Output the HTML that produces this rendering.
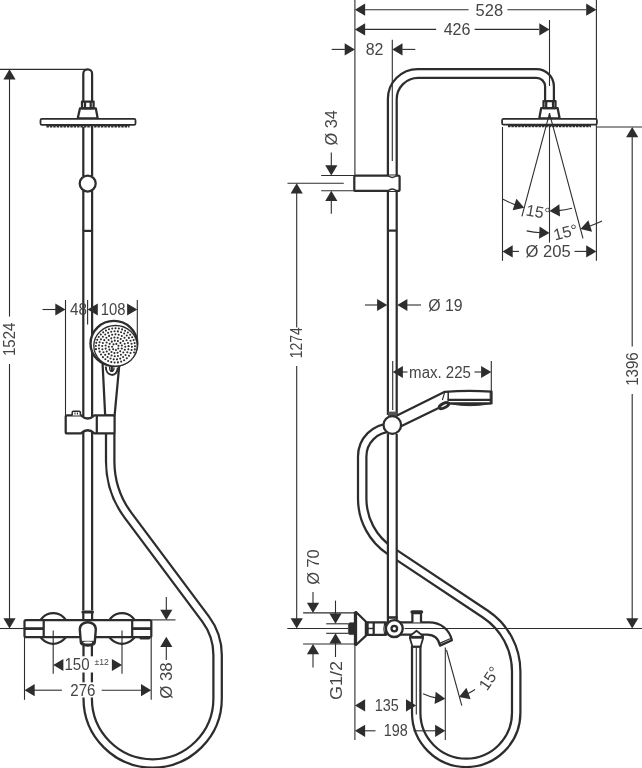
<!DOCTYPE html>
<html lang="en">
<head>
<meta charset="utf-8">
<title>Shower system dimensional drawing</title>
<style>
html,body{margin:0;padding:0;background:#fff;}
body{width:642px;height:768px;overflow:hidden;}
svg{display:block;filter:grayscale(1);}
svg text{font-family:"Liberation Sans",sans-serif;fill:#454545;}
.o{stroke:#2d2d2d;stroke-width:2.25;fill:none;stroke-linejoin:round;}
.d{stroke:#2d2d2d;stroke-width:1.1;fill:none;}
.a{fill:#2d2d2d;stroke:none;}
</style>
</head>
<body>
<svg width="642" height="768" viewBox="0 0 642 768">
<rect x="0" y="0" width="642" height="768" fill="#fff"/>
<path d="M110.2,433 V461 A91,91 0 0 0 128.3,515.6 L205.66,619.1 A60,60 0 0 1 217.6,655 V698.5 A64.95,64.95 0 0 1 87.7,698.5 V646" fill="none" stroke="#2d2d2d" stroke-width="10.65"/>
<path d="M110.2,433 V461 A91,91 0 0 0 128.3,515.6 L205.66,619.1 A60,60 0 0 1 217.6,655 V698.5 A64.95,64.95 0 0 1 87.7,698.5 V646" fill="none" stroke="#fff" stroke-width="6.15"/>
<rect x="80" y="656.3" width="16" height="16.2" fill="#fff"/>
<rect x="80" y="682.3" width="16" height="15.2" fill="#fff"/>
<line class="d" x1="0.00" y1="69.35" x2="87.00" y2="69.35"/>
<line class="d" x1="9.50" y1="75.00" x2="9.50" y2="316.60"/>
<line class="d" x1="9.50" y1="363.90" x2="9.50" y2="622.00"/>
<polygon class="a" points="9.50,69.35 15.60,79.55 3.40,79.55"/>
<polygon class="a" points="9.50,628.50 3.40,618.30 15.60,618.30"/>
<line class="d" x1="0.00" y1="628.50" x2="24.50" y2="628.50"/>
<text x="15.00" y="356.03" font-size="16" textLength="33.50" lengthAdjust="spacingAndGlyphs" transform="rotate(-90 15.00 356.03)">1524</text>
<path class="o" d="M83.3,101.5 L83.3,73.7 A4.4,4.4 0 0 1 92.1,73.7 L92.1,101.5" />
<path class="o" d="M82,101.6 H93.6 V108.3 H82 Z" />
<line class="o" x1="85.00" y1="101.60" x2="85.00" y2="108.30"/>
<line class="o" x1="90.70" y1="101.60" x2="90.70" y2="108.30"/>
<path class="o" d="M80,108.3 H95.8 L97.7,118.4 H77.7 Z" />
<path class="o" d="M42,118.9 H134 Q135.5,118.9 135.5,120.3 V123.4 Q135.5,124.8 134,124.8 H42 Q40.5,124.8 40.5,123.4 V120.3 Q40.5,118.9 42,118.9 Z" style="fill:#fff;stroke-width:1.8"/>
<line x1="46.5" y1="125.5" x2="129.5" y2="125.5" stroke="#2d2d2d" stroke-width="1.6"/>
<line x1="46.5" y1="126.6" x2="129.5" y2="126.6" stroke="#2d2d2d" stroke-width="1.6" stroke-dasharray="2.4 1"/>
<line class="o" x1="83.30" y1="127.00" x2="83.30" y2="176.00"/>
<line class="o" x1="92.10" y1="127.00" x2="92.10" y2="176.00"/>
<circle class="o" cx="87.7" cy="183.5" r="8" style="fill:#fff"/>
<line class="o" x1="83.30" y1="190.50" x2="83.30" y2="416.00"/>
<line class="o" x1="92.10" y1="190.50" x2="92.10" y2="416.00"/>
<line class="o" x1="83.30" y1="230.90" x2="92.10" y2="230.90"/>
<line class="o" x1="83.30" y1="432.00" x2="83.30" y2="610.50"/>
<line class="o" x1="92.10" y1="432.00" x2="92.10" y2="610.50"/>
<line class="d" x1="65.50" y1="300.00" x2="65.50" y2="415.00"/>
<line class="d" x1="87.60" y1="300.00" x2="87.60" y2="324.50"/>
<line class="d" x1="137.30" y1="300.00" x2="137.30" y2="342.00"/>
<line class="d" x1="42.50" y1="309.50" x2="56.00" y2="309.50"/>
<polygon class="a" points="65.50,309.50 55.30,315.60 55.30,303.40"/>
<text x="70.10" y="315.30" font-size="16" textLength="16.95" lengthAdjust="spacingAndGlyphs">48</text>
<polygon class="a" points="87.60,309.50 97.80,303.40 97.80,315.60"/>
<text x="100.79" y="315.30" font-size="16" textLength="24.76" lengthAdjust="spacingAndGlyphs">108</text>
<polygon class="a" points="137.30,309.50 127.10,315.60 127.10,303.40"/>
<path class="o" d="M102.6,364 L105.2,415.7 H114.6 L119.2,366 " style="fill:#fff"/>
<ellipse class="o" cx="113.9" cy="343.5" rx="23.4" ry="22.6" style="fill:#fff;stroke-width:2.4"/>
<ellipse cx="115.5" cy="345.8" rx="21.7" ry="20.3" fill="#fff" stroke="#2d2d2d" stroke-width="1.3"/>
<circle cx="113.18" cy="349.22" r="1.05" fill="#2d2d2d"/>
<circle cx="112.11" cy="346.69" r="1.05" fill="#2d2d2d"/>
<circle cx="113.52" cy="344.33" r="1.05" fill="#2d2d2d"/>
<circle cx="116.34" cy="343.90" r="1.05" fill="#2d2d2d"/>
<circle cx="118.46" cy="345.73" r="1.05" fill="#2d2d2d"/>
<circle cx="118.27" cy="348.44" r="1.05" fill="#2d2d2d"/>
<circle cx="115.92" cy="350.00" r="1.05" fill="#2d2d2d"/>
<circle cx="114.79" cy="340.66" r="1.05" fill="#2d2d2d"/>
<circle cx="117.91" cy="341.10" r="1.05" fill="#2d2d2d"/>
<circle cx="120.46" cy="342.88" r="1.05" fill="#2d2d2d"/>
<circle cx="121.85" cy="345.57" r="1.05" fill="#2d2d2d"/>
<circle cx="121.76" cy="348.57" r="1.05" fill="#2d2d2d"/>
<circle cx="120.21" cy="351.19" r="1.05" fill="#2d2d2d"/>
<circle cx="117.56" cy="352.82" r="1.05" fill="#2d2d2d"/>
<circle cx="114.42" cy="353.10" r="1.05" fill="#2d2d2d"/>
<circle cx="111.50" cy="351.96" r="1.05" fill="#2d2d2d"/>
<circle cx="109.47" cy="349.65" r="1.05" fill="#2d2d2d"/>
<circle cx="108.80" cy="346.72" r="1.05" fill="#2d2d2d"/>
<circle cx="109.65" cy="343.83" r="1.05" fill="#2d2d2d"/>
<circle cx="111.81" cy="341.64" r="1.05" fill="#2d2d2d"/>
<circle cx="123.30" cy="352.57" r="1.05" fill="#2d2d2d"/>
<circle cx="120.93" cy="354.70" r="1.05" fill="#2d2d2d"/>
<circle cx="117.97" cy="355.98" r="1.05" fill="#2d2d2d"/>
<circle cx="114.73" cy="356.28" r="1.05" fill="#2d2d2d"/>
<circle cx="111.56" cy="355.57" r="1.05" fill="#2d2d2d"/>
<circle cx="108.80" cy="353.91" r="1.05" fill="#2d2d2d"/>
<circle cx="106.76" cy="351.50" r="1.05" fill="#2d2d2d"/>
<circle cx="105.66" cy="348.58" r="1.05" fill="#2d2d2d"/>
<circle cx="105.61" cy="345.49" r="1.05" fill="#2d2d2d"/>
<circle cx="106.63" cy="342.54" r="1.05" fill="#2d2d2d"/>
<circle cx="108.59" cy="340.07" r="1.05" fill="#2d2d2d"/>
<circle cx="111.29" cy="338.34" r="1.05" fill="#2d2d2d"/>
<circle cx="114.44" cy="337.54" r="1.05" fill="#2d2d2d"/>
<circle cx="117.69" cy="337.75" r="1.05" fill="#2d2d2d"/>
<circle cx="120.69" cy="338.95" r="1.05" fill="#2d2d2d"/>
<circle cx="123.12" cy="341.02" r="1.05" fill="#2d2d2d"/>
<circle cx="124.72" cy="343.72" r="1.05" fill="#2d2d2d"/>
<circle cx="125.30" cy="346.76" r="1.05" fill="#2d2d2d"/>
<circle cx="124.81" cy="349.82" r="1.05" fill="#2d2d2d"/>
<circle cx="102.42" cy="349.20" r="1.05" fill="#2d2d2d"/>
<circle cx="102.23" cy="346.07" r="1.05" fill="#2d2d2d"/>
<circle cx="102.86" cy="342.98" r="1.05" fill="#2d2d2d"/>
<circle cx="104.28" cy="340.14" r="1.05" fill="#2d2d2d"/>
<circle cx="106.40" cy="337.73" r="1.05" fill="#2d2d2d"/>
<circle cx="109.08" cy="335.89" r="1.05" fill="#2d2d2d"/>
<circle cx="112.16" cy="334.74" r="1.05" fill="#2d2d2d"/>
<circle cx="115.45" cy="334.36" r="1.05" fill="#2d2d2d"/>
<circle cx="118.73" cy="334.77" r="1.05" fill="#2d2d2d"/>
<circle cx="121.80" cy="335.93" r="1.05" fill="#2d2d2d"/>
<circle cx="124.47" cy="337.79" r="1.05" fill="#2d2d2d"/>
<circle cx="126.57" cy="340.22" r="1.05" fill="#2d2d2d"/>
<circle cx="127.97" cy="343.07" r="1.05" fill="#2d2d2d"/>
<circle cx="128.58" cy="346.16" r="1.05" fill="#2d2d2d"/>
<circle cx="128.36" cy="349.30" r="1.05" fill="#2d2d2d"/>
<circle cx="127.32" cy="352.28" r="1.05" fill="#2d2d2d"/>
<circle cx="125.54" cy="354.93" r="1.05" fill="#2d2d2d"/>
<circle cx="123.12" cy="357.07" r="1.05" fill="#2d2d2d"/>
<circle cx="120.21" cy="358.58" r="1.05" fill="#2d2d2d"/>
<circle cx="117.01" cy="359.35" r="1.05" fill="#2d2d2d"/>
<circle cx="113.70" cy="359.34" r="1.05" fill="#2d2d2d"/>
<circle cx="110.50" cy="358.54" r="1.05" fill="#2d2d2d"/>
<circle cx="107.60" cy="357.02" r="1.05" fill="#2d2d2d"/>
<circle cx="105.20" cy="354.86" r="1.05" fill="#2d2d2d"/>
<circle cx="103.44" cy="352.20" r="1.05" fill="#2d2d2d"/>
<circle cx="124.09" cy="333.57" r="1.05" fill="#2d2d2d"/>
<circle cx="126.73" cy="335.51" r="1.05" fill="#2d2d2d"/>
<circle cx="128.91" cy="337.91" r="1.05" fill="#2d2d2d"/>
<circle cx="130.54" cy="340.68" r="1.05" fill="#2d2d2d"/>
<circle cx="131.55" cy="343.70" r="1.05" fill="#2d2d2d"/>
<circle cx="131.90" cy="346.85" r="1.05" fill="#2d2d2d"/>
<circle cx="131.57" cy="350.01" r="1.05" fill="#2d2d2d"/>
<circle cx="130.58" cy="353.04" r="1.05" fill="#2d2d2d"/>
<circle cx="128.97" cy="355.82" r="1.05" fill="#2d2d2d"/>
<circle cx="126.80" cy="358.23" r="1.05" fill="#2d2d2d"/>
<circle cx="124.17" cy="360.18" r="1.05" fill="#2d2d2d"/>
<circle cx="121.18" cy="361.58" r="1.05" fill="#2d2d2d"/>
<circle cx="117.95" cy="362.39" r="1.05" fill="#2d2d2d"/>
<circle cx="114.61" cy="362.56" r="1.05" fill="#2d2d2d"/>
<circle cx="111.31" cy="362.09" r="1.05" fill="#2d2d2d"/>
<circle cx="108.18" cy="360.99" r="1.05" fill="#2d2d2d"/>
<circle cx="105.34" cy="359.32" r="1.05" fill="#2d2d2d"/>
<circle cx="102.91" cy="357.15" r="1.05" fill="#2d2d2d"/>
<circle cx="101.00" cy="354.55" r="1.05" fill="#2d2d2d"/>
<circle cx="99.67" cy="351.64" r="1.05" fill="#2d2d2d"/>
<circle cx="98.99" cy="348.53" r="1.05" fill="#2d2d2d"/>
<circle cx="98.98" cy="345.36" r="1.05" fill="#2d2d2d"/>
<circle cx="99.64" cy="342.25" r="1.05" fill="#2d2d2d"/>
<circle cx="100.95" cy="339.33" r="1.05" fill="#2d2d2d"/>
<circle cx="102.85" cy="336.72" r="1.05" fill="#2d2d2d"/>
<circle cx="105.26" cy="334.53" r="1.05" fill="#2d2d2d"/>
<circle cx="108.09" cy="332.85" r="1.05" fill="#2d2d2d"/>
<circle cx="111.22" cy="331.74" r="1.05" fill="#2d2d2d"/>
<circle cx="114.52" cy="331.25" r="1.05" fill="#2d2d2d"/>
<circle cx="117.85" cy="331.40" r="1.05" fill="#2d2d2d"/>
<circle cx="121.08" cy="332.18" r="1.05" fill="#2d2d2d"/>
<circle cx="95.94" cy="349.13" r="1.05" fill="#2d2d2d"/>
<circle cx="95.82" cy="345.97" r="1.05" fill="#2d2d2d"/>
<circle cx="96.27" cy="342.84" r="1.05" fill="#2d2d2d"/>
<circle cx="97.27" cy="339.83" r="1.05" fill="#2d2d2d"/>
<circle cx="98.79" cy="337.02" r="1.05" fill="#2d2d2d"/>
<circle cx="100.78" cy="334.50" r="1.05" fill="#2d2d2d"/>
<circle cx="103.20" cy="332.33" r="1.05" fill="#2d2d2d"/>
<circle cx="105.97" cy="330.58" r="1.05" fill="#2d2d2d"/>
<circle cx="109.01" cy="329.30" r="1.05" fill="#2d2d2d"/>
<circle cx="112.23" cy="328.53" r="1.05" fill="#2d2d2d"/>
<circle cx="115.54" cy="328.28" r="1.05" fill="#2d2d2d"/>
<circle cx="118.85" cy="328.57" r="1.05" fill="#2d2d2d"/>
<circle cx="122.07" cy="329.39" r="1.05" fill="#2d2d2d"/>
<circle cx="125.08" cy="330.71" r="1.05" fill="#2d2d2d"/>
<circle cx="127.83" cy="332.50" r="1.05" fill="#2d2d2d"/>
<circle cx="130.21" cy="334.70" r="1.05" fill="#2d2d2d"/>
<circle cx="132.17" cy="337.25" r="1.05" fill="#2d2d2d"/>
<circle cx="133.64" cy="340.08" r="1.05" fill="#2d2d2d"/>
<circle cx="134.59" cy="343.11" r="1.05" fill="#2d2d2d"/>
<circle cx="134.99" cy="346.25" r="1.05" fill="#2d2d2d"/>
<circle cx="134.82" cy="349.40" r="1.05" fill="#2d2d2d"/>
<circle cx="134.10" cy="352.48" r="1.05" fill="#2d2d2d"/>
<path class="o" d="M105.8,366.5 C105.8,377.5 117.8,377.5 117.8,367.5" style="fill:none;stroke-width:2"/>
<path class="o" d="M109.6,367 C109.4,372.8 114.2,372.8 114,367.5" style="fill:none;stroke-width:1.3"/>
<line class="o" x1="111.80" y1="366.00" x2="111.80" y2="372.00"/>
<path class="o" d="M67.2,415.4 H81 Q87.7,421.6 94.4,415.4 H113 Q114.6,415.4 114.6,417 V431.9 Q114.6,433.4 113,433.4 H94.4 Q87.7,427.2 81,433.4 H67.2 Q65.7,433.4 65.7,431.9 V417 Q65.7,415.4 67.2,415.4 Z" style="fill:#fff"/>
<line class="o" x1="96.80" y1="416.00" x2="96.80" y2="433.40"/>
<path class="o" d="M72.2,415.4 V412.4 Q72.2,411.2 73.4,411.2 H79.2 Q80.4,411.2 80.4,412.4 V415.4" style="fill:#fff;stroke-width:1.5"/>
<line class="d" x1="75.00" y1="412.60" x2="75.00" y2="414.60"/>
<line class="d" x1="77.40" y1="412.60" x2="77.40" y2="414.60"/>
<circle class="o" cx="53.2" cy="628.5" r="15.3" style="fill:#fff"/>
<circle class="o" cx="122" cy="628.5" r="15.3" style="fill:#fff"/>
<path class="o" d="M26,620 H149.8 Q151.3,620 151.3,621.5 V635.7 Q151.3,637.2 149.8,637.2 H26 Q24.5,637.2 24.5,635.7 V621.5 Q24.5,620 26,620 Z" style="fill:#fff"/>
<line class="o" x1="43.70" y1="620.00" x2="43.70" y2="637.20"/>
<line class="o" x1="132.20" y1="620.00" x2="132.20" y2="637.20"/>
<line x1="24.5" y1="628.6" x2="43.7" y2="628.6" stroke="#2d2d2d" stroke-width="2.8"/>
<line x1="132.2" y1="628.6" x2="151.3" y2="628.6" stroke="#2d2d2d" stroke-width="2.8"/>
<line x1="140.8" y1="638.2" x2="148.8" y2="638.2" stroke="#2d2d2d" stroke-width="2.4" stroke-linecap="round"/>
<line x1="83" y1="612" x2="92.4" y2="612" stroke="#2d2d2d" stroke-width="3.2" stroke-linecap="round"/>
<line class="o" x1="83.30" y1="612.00" x2="83.30" y2="620.00"/>
<line class="o" x1="92.10" y1="612.00" x2="92.10" y2="620.00"/>
<path class="o" d="M80.8,642 L79.8,629.5 C79.8,619.8 95.8,619.8 95.8,629.5 L94.8,642 C94.8,646.6 80.8,646.6 80.8,642 Z" style="fill:#fff;stroke-width:2.4"/>
<path class="o" d="M81.2,641.3 H94.4 L94.2,643.5 C93.5,646.4 82,646.4 81.4,643.5 Z" style="fill:#2d2d2d;stroke-width:0.8"/>
<ellipse cx="87.8" cy="642.5" rx="4.4" ry="1.1" fill="#fff"/>
<line class="d" x1="53.20" y1="630.50" x2="53.20" y2="673.70"/>
<line class="d" x1="122.00" y1="630.50" x2="122.00" y2="673.70"/>
<polygon class="a" points="53.20,665.00 63.40,658.90 63.40,671.10"/>
<polygon class="a" points="122.10,665.00 111.90,671.10 111.90,658.90"/>
<text x="64.47" y="670.40" font-size="16" textLength="25.11" lengthAdjust="spacingAndGlyphs">150</text>
<text x="94.54" y="665.10" font-size="9.2" textLength="14.40" lengthAdjust="spacingAndGlyphs">±12</text>
<line class="d" x1="24.50" y1="638.00" x2="24.50" y2="699.80"/>
<line class="d" x1="151.20" y1="638.00" x2="151.20" y2="699.80"/>
<polygon class="a" points="24.50,690.20 34.70,684.10 34.70,696.30"/>
<polygon class="a" points="151.20,690.20 141.00,696.30 141.00,684.10"/>
<line class="d" x1="34.00" y1="690.20" x2="61.90" y2="690.20"/>
<line class="d" x1="101.70" y1="690.20" x2="141.50" y2="690.20"/>
<text x="70.35" y="696.10" font-size="16" textLength="25.11" lengthAdjust="spacingAndGlyphs">276</text>
<line class="d" x1="151.30" y1="619.90" x2="175.50" y2="619.90"/>
<line class="d" x1="166.30" y1="597.00" x2="166.30" y2="610.00"/>
<polygon class="a" points="166.30,619.90 160.20,609.70 172.40,609.70"/>
<polygon class="a" points="166.30,636.80 172.40,647.00 160.20,647.00"/>
<line class="d" x1="166.30" y1="646.00" x2="166.30" y2="660.00"/>
<text x="172.20" y="698.79" font-size="16" textLength="36.51" lengthAdjust="spacingAndGlyphs" transform="rotate(-90 172.20 698.79)">Ø 38</text>
<path d="M391,427.7 A28.8,28.8 0 0 0 362.2,456.5 V498.7 A62.4,62.4 0 0 0 390,550.6 L485.6,614.3 A68.8,68.8 0 0 1 516.2,671.5 V712.8 A50,50 0 0 1 416.2,712.8 V646" fill="none" stroke="#2d2d2d" stroke-width="10.65"/>
<path d="M391,427.7 A28.8,28.8 0 0 0 362.2,456.5 V498.7 A62.4,62.4 0 0 0 390,550.6 L485.6,614.3 A68.8,68.8 0 0 1 516.2,671.5 V712.8 A50,50 0 0 1 416.2,712.8 V646" fill="none" stroke="#fff" stroke-width="6.15"/>
<rect x="388" y="530" width="8.5" height="40" fill="#fff"/>
<line class="d" x1="354.90" y1="0.00" x2="354.90" y2="176.00"/>
<line class="d" x1="354.90" y1="612.00" x2="354.90" y2="740.00"/>
<line class="d" x1="365.00" y1="9.70" x2="468.60" y2="9.70"/>
<line class="d" x1="507.40" y1="9.70" x2="586.00" y2="9.70"/>
<polygon class="a" points="354.90,9.70 365.10,3.60 365.10,15.80"/>
<polygon class="a" points="596.40,9.70 586.20,15.80 586.20,3.60"/>
<text x="475.64" y="15.60" font-size="16" textLength="27.48" lengthAdjust="spacingAndGlyphs">528</text>
<line class="d" x1="596.40" y1="0.00" x2="596.40" y2="260.80"/>
<line class="d" x1="365.00" y1="29.40" x2="436.20" y2="29.40"/>
<line class="d" x1="474.70" y1="29.40" x2="539.00" y2="29.40"/>
<polygon class="a" points="354.90,29.40 365.10,23.30 365.10,35.50"/>
<polygon class="a" points="549.50,29.40 539.30,35.50 539.30,23.30"/>
<text x="443.68" y="35.00" font-size="16" textLength="26.72" lengthAdjust="spacingAndGlyphs">426</text>
<line class="d" x1="549.50" y1="20.00" x2="549.50" y2="86.00"/>
<line class="d" x1="549.50" y1="113.00" x2="549.50" y2="242.60"/>
<line class="d" x1="331.70" y1="49.40" x2="344.90" y2="49.40"/>
<polygon class="a" points="354.90,49.40 344.70,55.50 344.70,43.30"/>
<polygon class="a" points="392.30,49.40 402.50,43.30 402.50,55.50"/>
<line class="d" x1="402.20" y1="49.40" x2="415.30" y2="49.40"/>
<text x="365.76" y="55.30" font-size="16" textLength="17.67" lengthAdjust="spacingAndGlyphs">82</text>
<line class="d" x1="392.30" y1="39.70" x2="392.30" y2="161.00"/>
<path class="o" d="M387.9,176 V98.8 A29.8,29.8 0 0 1 417.7,69 H536.4 A17.5,17.5 0 0 1 553.9,86.5 V101" />
<path class="o" d="M396.7,176 V99.3 A21.5,21.5 0 0 1 418.2,77.8 H536.4 A8.7,8.7 0 0 1 545.1,86.5 V101" />
<path class="o" d="M543.5,101.1 H555.5 V108 H543.5 Z" />
<line class="o" x1="546.20" y1="101.10" x2="546.20" y2="108.00"/>
<line class="o" x1="553.00" y1="101.10" x2="553.00" y2="108.00"/>
<path class="o" d="M541.2,108 H557.6 L559.6,118.3 H539.3 Z" />
<path class="o" d="M503.6,118.8 H595.4 Q596.9,118.8 596.9,120.2 V123.3 Q596.9,124.7 595.4,124.7 H503.6 Q502.1,124.7 502.1,123.3 V120.2 Q502.1,118.8 503.6,118.8 Z" style="fill:#fff;stroke-width:1.8"/>
<line x1="508" y1="125.4" x2="591" y2="125.4" stroke="#2d2d2d" stroke-width="1.6"/>
<line x1="508" y1="126.5" x2="591" y2="126.5" stroke="#2d2d2d" stroke-width="1.6" stroke-dasharray="2.4 1"/>
<line class="d" x1="549.50" y1="113.40" x2="521.90" y2="216.40"/>
<line class="d" x1="549.50" y1="113.40" x2="582.97" y2="238.30"/>
<line class="d" x1="502.50" y1="127.00" x2="502.50" y2="260.80"/>
<path class="d" d="M503.08,199.25 A97.6,97.6 0 0 0 516.12,205.11" />
<polygon class="a" points="524.24,207.67 512.65,210.32 516.42,198.72"/>
<path class="d" d="M558.01,210.63 A97.6,97.6 0 0 0 572.12,208.34" />
<polygon class="a" points="549.50,211.00 559.37,204.37 560.01,216.56"/>
<text x="525.22" y="215.19" font-size="16" textLength="24.20" lengthAdjust="spacingAndGlyphs" transform="rotate(10 525.22 215.19)">15°</text>
<path class="d" d="M526.66,230.90 A119.7,119.7 0 0 0 541.15,232.81" />
<polygon class="a" points="549.50,233.10 539.04,238.75 539.58,226.56"/>
<path class="d" d="M589.46,226.23 A119.7,119.7 0 0 0 601.97,220.99" />
<polygon class="a" points="580.48,229.02 588.37,220.14 592.04,231.77"/>
<text x="555.03" y="240.49" font-size="16" textLength="24.42" lengthAdjust="spacingAndGlyphs" transform="rotate(-14 555.03 240.49)">15°</text>
<polygon class="a" points="502.50,251.40 512.70,245.30 512.70,257.50"/>
<polygon class="a" points="596.40,251.40 586.20,257.50 586.20,245.30"/>
<line class="d" x1="512.00" y1="251.40" x2="519.00" y2="251.40"/>
<line class="d" x1="574.50" y1="251.40" x2="587.00" y2="251.40"/>
<text x="525.42" y="257.00" font-size="16" textLength="45.23" lengthAdjust="spacingAndGlyphs">Ø 205</text>
<line class="d" x1="597.00" y1="127.00" x2="642.00" y2="127.00"/>
<line class="d" x1="632.20" y1="133.00" x2="632.20" y2="346.50"/>
<line class="d" x1="632.20" y1="394.00" x2="632.20" y2="622.00"/>
<polygon class="a" points="632.20,127.00 638.30,137.20 626.10,137.20"/>
<polygon class="a" points="632.20,628.50 626.10,618.30 638.30,618.30"/>
<text x="638.00" y="385.83" font-size="16" textLength="33.53" lengthAdjust="spacingAndGlyphs" transform="rotate(-90 638.00 385.83)">1396</text>
<line class="d" x1="321.20" y1="175.50" x2="354.50" y2="175.50"/>
<line class="d" x1="321.20" y1="190.80" x2="354.50" y2="190.80"/>
<line class="d" x1="331.30" y1="152.50" x2="331.30" y2="166.00"/>
<polygon class="a" points="331.30,175.50 325.20,165.30 337.40,165.30"/>
<polygon class="a" points="331.30,190.80 337.40,201.00 325.20,201.00"/>
<line class="d" x1="331.30" y1="200.00" x2="331.30" y2="213.80"/>
<text x="337.00" y="145.57" font-size="16" textLength="35.43" lengthAdjust="spacingAndGlyphs" transform="rotate(-90 337.00 145.57)">Ø 34</text>
<path class="o" d="M355.6,175.6 H398.2 Q399.6,175.6 399.6,177 V189.4 Q399.6,190.9 398.2,190.9 H355.6 Q354.3,190.9 354.3,189.4 V177 Q354.3,175.6 355.6,175.6 Z" style="fill:#fff"/>
<path class="o" d="M388,175.6 Q392.2,179.5 396.5,175.6" style="fill:#fff;stroke-width:1.3"/>
<path class="o" d="M388,190.9 Q392.2,187 396.5,190.9" style="fill:#fff;stroke-width:1.3"/>
<line class="o" x1="387.90" y1="191.00" x2="387.90" y2="415.00"/>
<line class="o" x1="396.70" y1="191.00" x2="396.70" y2="415.00"/>
<line class="o" x1="387.90" y1="230.60" x2="396.70" y2="230.60"/>
<line class="o" x1="387.90" y1="434.00" x2="387.90" y2="617.00"/>
<line class="o" x1="396.70" y1="434.00" x2="396.70" y2="617.00"/>
<line class="d" x1="287.50" y1="183.30" x2="343.80" y2="183.30"/>
<line class="d" x1="296.70" y1="189.00" x2="296.70" y2="327.60"/>
<line class="d" x1="296.70" y1="366.10" x2="296.70" y2="622.00"/>
<polygon class="a" points="296.70,183.30 302.80,193.50 290.60,193.50"/>
<polygon class="a" points="296.70,628.50 290.60,618.30 302.80,618.30"/>
<text x="302.40" y="358.35" font-size="16" textLength="31.09" lengthAdjust="spacingAndGlyphs" transform="rotate(-90 302.40 358.35)">1274</text>
<line class="d" x1="287.30" y1="628.50" x2="348.30" y2="628.50"/>
<line class="d" x1="365.00" y1="305.00" x2="378.00" y2="305.00"/>
<polygon class="a" points="387.30,305.00 377.10,311.10 377.10,298.90"/>
<polygon class="a" points="397.20,305.00 407.40,298.90 407.40,311.10"/>
<line class="d" x1="407.00" y1="305.00" x2="421.00" y2="305.00"/>
<text x="428.24" y="310.60" font-size="16" textLength="34.42" lengthAdjust="spacingAndGlyphs">Ø 19</text>
<line class="d" x1="392.70" y1="361.00" x2="392.70" y2="410.00"/>
<line class="d" x1="491.30" y1="361.00" x2="491.30" y2="391.00"/>
<polygon class="a" points="392.70,372.00 402.90,365.90 402.90,378.10"/>
<polygon class="a" points="491.30,372.00 481.10,378.10 481.10,365.90"/>
<line class="d" x1="402.00" y1="372.00" x2="407.50" y2="372.00"/>
<line class="d" x1="474.50" y1="372.00" x2="482.00" y2="372.00"/>
<text x="409.12" y="377.50" font-size="16" textLength="61.83" lengthAdjust="spacingAndGlyphs">max. 225</text>
<path class="o" d="M396,415.9 L444.8,391.8 Q468,390 491.5,391.6 V403.4 H447.5 L438.6,408 L399,427.3 Z" style="fill:#fff"/>
<line class="o" x1="447.40" y1="399.80" x2="491.00" y2="399.80"/>
<line x1="448.2" y1="392" x2="448.2" y2="399.8" stroke="#2d2d2d" stroke-width="1.5"/>
<line x1="444.8" y1="391.8" x2="442.4" y2="400" stroke="#2d2d2d" stroke-width="1.1"/>
<line class="d" x1="490.20" y1="392.00" x2="490.20" y2="403.00"/>
<path class="o" d="M449,403.6 Q470,407.8 490.8,403.6 Z" style="fill:#2d2d2d;stroke-width:1"/>
<ellipse cx="444" cy="405.6" rx="5.2" ry="2.2" transform="rotate(-27 444 405.6)" fill="#fff" stroke="#2d2d2d" stroke-width="2.9"/>
<rect x="388" y="411.6" width="8.8" height="4.4" fill="#555"/>
<circle cx="392.3" cy="425.0" r="8.8" fill="#fff" stroke="#2d2d2d" stroke-width="2.3"/>
<path class="o" d="M350,622.8 H355 V634.6 H350 Q348.4,634.6 348.4,633 V624.4 Q348.4,622.8 350,622.8 Z" style="fill:#2d2d2d;stroke-width:0.6"/>
<path class="o" d="M356,612 L366,621.8 V635.6 L356,645 Z" style="fill:#fff"/>
<line x1="355.4" y1="611.6" x2="355.4" y2="645.3" stroke="#2d2d2d" stroke-width="3.1"/>
<path class="o" d="M366,622.4 H386 V634.8 H366 Z" style="fill:#fff"/>
<line x1="367.3" y1="621.6" x2="367.3" y2="635.7" stroke="#2d2d2d" stroke-width="2.8"/>
<line class="o" x1="373.70" y1="622.40" x2="373.70" y2="634.80"/>
<line x1="368" y1="628.5" x2="373.7" y2="628.5" stroke="#2d2d2d" stroke-width="1.4"/>
<path class="d" d="M384.6,623 Q383.2,628.6 384.6,634.3" />
<path class="o" d="M399,622.4 H429 C441,622.4 449.5,629.5 451.9,640.3 L440,645.6 C438.6,638.5 434.5,634.6 427,634.6 H399 Z" style="fill:#fff"/>
<line x1="439.6" y1="643.4" x2="451.2" y2="638.3" stroke="#2d2d2d" stroke-width="1.2"/>
<path class="o" d="M412.4,622.4 V613 H421 V622.4" style="fill:#fff"/>
<line x1="412" y1="611.9" x2="421.6" y2="611.9" stroke="#2d2d2d" stroke-width="3.2" stroke-linecap="round"/>
<line x1="387.2" y1="617.5" x2="397.6" y2="617.5" stroke="#2d2d2d" stroke-width="2.6"/>
<line class="o" x1="387.90" y1="617.00" x2="387.90" y2="622.00"/>
<line class="o" x1="396.70" y1="617.00" x2="396.70" y2="622.00"/>
<circle cx="394.3" cy="628.6" r="8.45" fill="#fff" stroke="#2d2d2d" stroke-width="2.4"/>
<circle cx="394.3" cy="628.6" r="2.8" fill="#fff" stroke="#2d2d2d" stroke-width="2.3"/>
<path class="o" d="M416.5,630.8 L423,636 V638.4 L420.6,646.6 H412.4 L410,638.4 V636 Z" style="fill:#fff;stroke-width:1.8"/>
<line x1="409.6" y1="637.3" x2="423.4" y2="637.3" stroke="#2d2d2d" stroke-width="2.8"/>
<line x1="411.6" y1="646.8" x2="421.2" y2="646.8" stroke="#2d2d2d" stroke-width="2"/>
<line class="d" x1="404.50" y1="628.50" x2="642.00" y2="628.50"/>
<line class="d" x1="303.10" y1="612.90" x2="354.90" y2="612.90"/>
<line class="d" x1="303.10" y1="644.00" x2="354.90" y2="644.00"/>
<line class="d" x1="313.00" y1="592.10" x2="313.00" y2="604.00"/>
<polygon class="a" points="313.00,612.90 306.90,602.70 319.10,602.70"/>
<polygon class="a" points="313.00,644.00 319.10,654.20 306.90,654.20"/>
<line class="d" x1="313.00" y1="653.00" x2="313.00" y2="667.40"/>
<text x="319.50" y="584.87" font-size="16" textLength="35.49" lengthAdjust="spacingAndGlyphs" transform="rotate(-90 319.50 584.87)">Ø 70</text>
<line class="d" x1="326.20" y1="623.80" x2="348.40" y2="623.80"/>
<line class="d" x1="326.20" y1="633.30" x2="348.40" y2="633.30"/>
<line class="d" x1="335.50" y1="600.60" x2="335.50" y2="614.00"/>
<polygon class="a" points="335.50,623.80 329.40,613.60 341.60,613.60"/>
<polygon class="a" points="335.50,633.30 341.60,643.50 329.40,643.50"/>
<line class="d" x1="335.50" y1="643.00" x2="335.50" y2="657.00"/>
<text x="341.70" y="700.00" font-size="16" textLength="39.05" lengthAdjust="spacingAndGlyphs" transform="rotate(-90 341.70 700.00)">G1/2</text>
<polygon class="a" points="354.90,705.40 365.10,699.30 365.10,711.50"/>
<polygon class="a" points="416.20,705.40 406.00,711.50 406.00,699.30"/>
<text x="374.72" y="710.70" font-size="16" textLength="24.01" lengthAdjust="spacingAndGlyphs">135</text>
<line class="d" x1="416.30" y1="647.50" x2="416.30" y2="714.50"/>
<polygon class="a" points="354.90,730.80 365.10,724.70 365.10,736.90"/>
<polygon class="a" points="445.30,730.80 435.10,736.90 435.10,724.70"/>
<line class="d" x1="364.00" y1="730.80" x2="375.50" y2="730.80"/>
<line class="d" x1="413.50" y1="730.80" x2="436.00" y2="730.80"/>
<text x="383.67" y="736.30" font-size="16" textLength="24.01" lengthAdjust="spacingAndGlyphs">198</text>
<line class="d" x1="445.30" y1="647.50" x2="445.30" y2="740.00"/>
<line class="d" x1="446.50" y1="650.00" x2="461.80" y2="705.60"/>
<path class="d" d="M423.03,693.76 A52.7,52.7 0 0 0 436.15,697.90" />
<polygon class="a" points="445.30,698.70 434.61,703.89 435.67,691.73"/>
<path class="d" d="M467.57,693.76 A52.7,52.7 0 0 0 475.00,689.54" />
<polygon class="a" points="458.94,696.90 466.44,687.68 470.61,699.15"/>
<text x="486.91" y="691.50" font-size="16" textLength="24.53" lengthAdjust="spacingAndGlyphs" transform="rotate(-55.5 486.91 691.50)">15°</text>
</svg>
</body>
</html>
